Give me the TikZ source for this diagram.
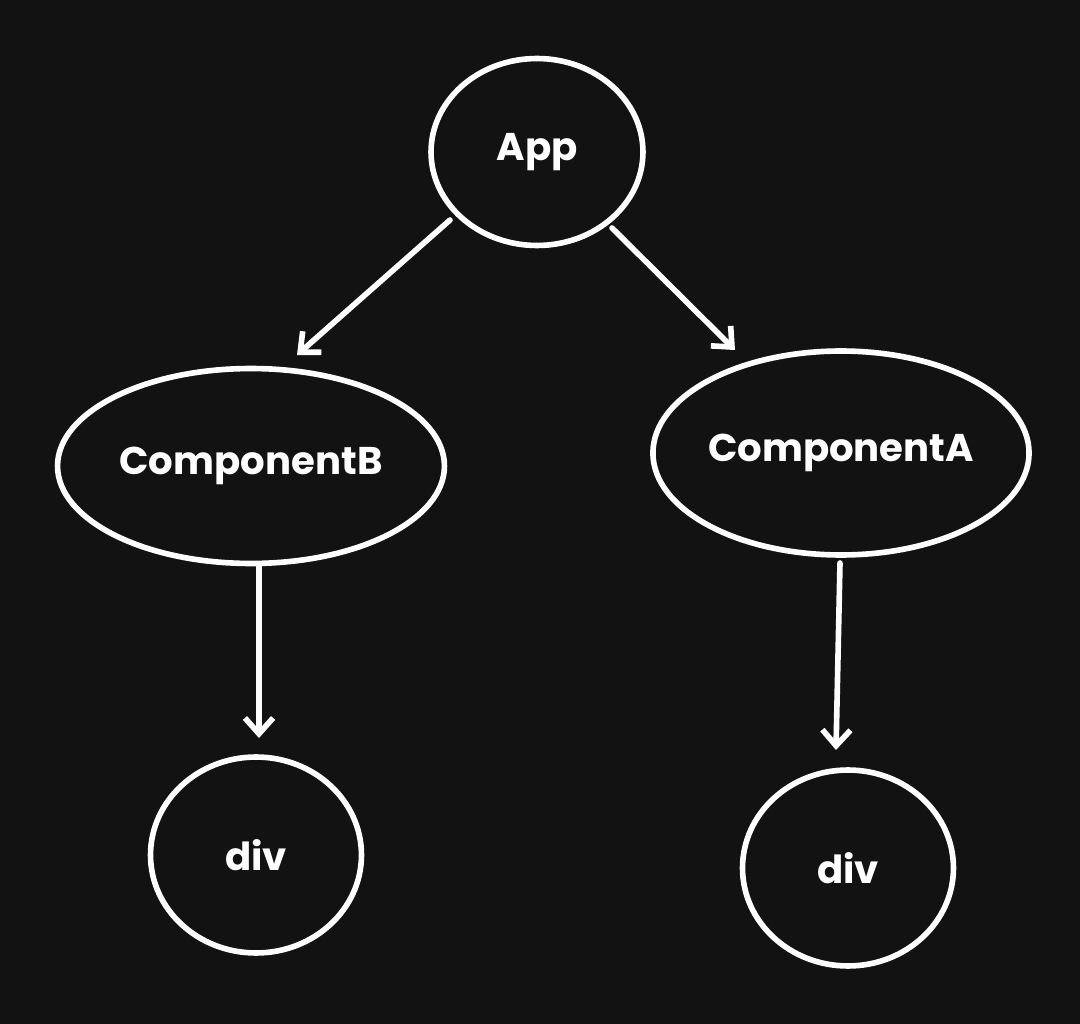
\documentclass[tikz,border=0pt]{standalone}
\usepackage{fontspec}
\setmainfont{Poppins}
\usetikzlibrary{shapes.geometric,arrows.meta}
\begin{document}
\begin{tikzpicture}[x=0.02cm,y=-0.02cm,
  bub/.style={draw=white,line width=3.2pt,ellipse,inner sep=0pt,text=white,font=\fontsize{22}{26}\selectfont\bfseries},
  link/.style={draw=white,line width=3.2pt,line cap=round,-{Straight Barb[length=9pt,width=16pt,line width=3.2pt]}}]
\fill[black!93] (0,0) rectangle (1080,1024);
\node[bub,minimum width=4.24cm,minimum height=3.74cm] (App) at (537,152) {App};
\node[bub,minimum width=7.74cm,minimum height=3.9cm] (B) at (251,466) {ComponentB};
\node[bub,minimum width=7.26cm,minimum height=4.08cm] (A) at (841,453) {ComponentA};
\node[bub,minimum width=4.22cm,minimum height=3.92cm] (d1) at (256,855) {div};
\node[bub,minimum width=4.22cm,minimum height=3.92cm] (d2) at (848,868) {div};
\coordinate (s1) at (450,220); \coordinate (e1) at (297,355);
\coordinate (s2) at (612,228); \coordinate (e2) at (735,350);
\coordinate (s3) at (259,565); \coordinate (e3) at (259,738);
\coordinate (s4) at (840,563); \coordinate (e4) at (836,750);
\draw[link] (s1) -- (e1);
\draw[link] (s2) -- (e2);
\draw[link] (s3) -- (e3);
\draw[link] (s4) -- (e4);
\end{tikzpicture}
\end{document}
